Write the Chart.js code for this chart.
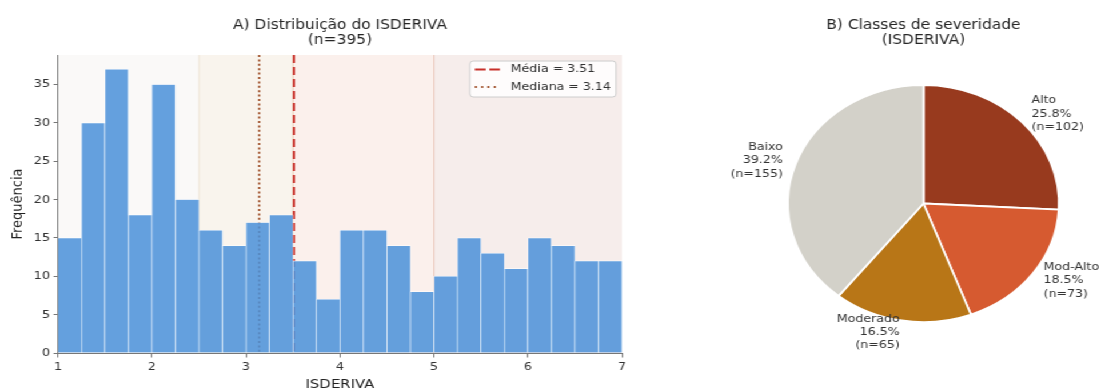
<!DOCTYPE html>
<html>
<head>
<meta charset="utf-8">
<script src="https://cdn.jsdelivr.net/npm/chart.js@4.4.1/dist/chart.umd.min.js"></script>
<style>
html,body{margin:0;padding:0;width:1101px;height:388px;overflow:hidden;background:#fff;}
#wrap{position:absolute;left:0;top:0;width:963px;height:400px;transform:scaleX(1.1433);transform-origin:0 0;}
#hist{position:absolute;left:0;top:0;}
#pie{position:absolute;left:612px;top:0;}
</style>
</head>
<body>
<div id="wrap">
<canvas id="hist" width="612" height="400"></canvas>
<canvas id="pie" width="351" height="388"></canvas>
</div>
<script>
// ---------- DATA ----------
const binEdges = [1.0,1.25,1.5,1.75,2.0,2.25,2.5,2.75,3.0,3.25,3.5,3.75,4.0,4.25,4.5,4.75,5.0,5.25,5.5,5.75,6.0,6.25,6.5,6.75,7.0];
const binCounts = [15,30,37,18,35,20,16,14,17,18,12,7,16,16,14,8,10,15,13,11,15,14,12,12];
const meanValue = 3.51;
const medianValue = 3.14;
const nTotal = 395;
const histTitle = ['A) Distribuição do ISDERIVA', '(n=' + nTotal + ')'];
const xAxisLabel = 'ISDERIVA';
const yAxisLabel = 'Frequência';
const xMin = 1, xMax = 7, xStep = 1;
const yMin = 0, yMax = 38.85, yStep = 5;

const classNames = ['Alto', 'Mod-Alto', 'Moderado', 'Baixo'];
const classCounts = [102, 73, 65, 155];
const classColors = ['#983a1e', '#d65a30', '#b87617', '#d3d1c9'];
const classFrom = [5.0, 3.5, 2.5, 1.0];
const classTo = [7.0, 5.0, 3.5, 2.5];
const bandAlpha = [0.09, 0.09, 0.08, 0.12];
const pieTitle = ['B) Classes de severidade', '(ISDERIVA)'];

// ---------- HELPERS ----------
Chart.defaults.font.family = "'DejaVu Sans', sans-serif";
Chart.defaults.color = '#333';
function hexA(hex, a){
  const n = parseInt(hex.slice(1),16);
  return 'rgba(' + ((n>>16)&255) + ',' + ((n>>8)&255) + ',' + (n&255) + ',' + a + ')';
}
function drawTitle(ctx, lines, cx){
  ctx.save();
  ctx.fillStyle = '#262626';
  ctx.font = "13.5px 'DejaVu Sans'";
  ctx.textAlign = 'center';
  ctx.textBaseline = 'middle';
  ctx.fillText(lines[0], cx, 25);
  ctx.fillText(lines[1], cx, 40.5);
  ctx.restore();
}

// ---------- HISTOGRAM ----------
const histPoints = binCounts.map((c, i) => ({x: (binEdges[i] + binEdges[i+1]) / 2, y: c}));
const refLines = [
  {label: 'Média = ' + meanValue.toFixed(2), value: meanValue, color: '#c8302a', dash: [8, 4], legendDash: [9.5, 3.2], width: 1.9},
  {label: 'Mediana = ' + medianValue.toFixed(2), value: medianValue, color: '#a0522d', dash: [2, 2.4], legendDash: [1.8, 3.7], width: 1.8}
];

const histDecor = {
  id: 'histDecor',
  beforeDatasetsDraw(chart){
    const {ctx, chartArea: a, scales: {x}} = chart;
    ctx.save();
    for (let i = 0; i < classNames.length; i++){
      const x0 = x.getPixelForValue(classFrom[i]);
      const x1 = x.getPixelForValue(classTo[i]);
      ctx.fillStyle = hexA(classColors[i], bandAlpha[i]);
      ctx.fillRect(x0, a.top, x1 - x0, a.bottom - a.top);
    }
    for (let i = 0; i < classNames.length; i++){
      [classFrom[i], classTo[i]].forEach(v => {
        if (v <= xMin || v >= xMax) return;
        const px = x.getPixelForValue(v);
        ctx.strokeStyle = hexA(classColors[i], 0.15);
        ctx.lineWidth = 0.9;
        ctx.beginPath(); ctx.moveTo(px, a.top); ctx.lineTo(px, a.bottom); ctx.stroke();
      });
    }
    refLines.forEach(r => {
      const px = x.getPixelForValue(r.value);
      ctx.strokeStyle = r.color;
      ctx.lineWidth = r.width;
      ctx.setLineDash(r.dash);
      ctx.beginPath(); ctx.moveTo(px, a.top); ctx.lineTo(px, a.bottom); ctx.stroke();
    });
    ctx.restore();
  },
  afterDraw(chart){
    const {ctx, chartArea: a} = chart;
    drawTitle(ctx, histTitle, (a.left + a.right) / 2);
    // legend
    ctx.save();
    ctx.font = "11px 'DejaVu Sans'";
    const tw = Math.max(...refLines.map(r => ctx.measureText(r.label).width));
    const w = 4.4 + 21.9 + 9.6 + tw + 4.5;
    const right = a.right - 5.2;
    const left = right - w;
    const top = a.top + 6, h = 36;
    ctx.fillStyle = 'rgba(255,255,255,0.85)';
    ctx.strokeStyle = '#cccccc';
    ctx.lineWidth = 1;
    ctx.beginPath();
    ctx.roundRect(left, top, w, h, 3);
    ctx.fill(); ctx.stroke();
    refLines.forEach((r, i) => {
      const cy = top + 8.5 + i * 17.5;
      ctx.strokeStyle = r.color;
      ctx.lineWidth = 2;
      ctx.setLineDash(r.legendDash);
      ctx.beginPath(); ctx.moveTo(left + 4.4, cy); ctx.lineTo(left + 4.4 + 21.9, cy); ctx.stroke();
      ctx.setLineDash([]);
      ctx.fillStyle = '#333';
      ctx.textAlign = 'left';
      ctx.textBaseline = 'middle';
      ctx.fillText(r.label, left + 4.4 + 21.9 + 9.6, cy);
    });
    ctx.restore();
  }
};

new Chart(document.getElementById('hist'), {
  type: 'bar',
  data: {
    datasets: [{
      label: yAxisLabel,
      data: histPoints,
      backgroundColor: 'rgba(74,144,217,0.85)',
      borderColor: 'rgba(255,255,255,0.95)',
      borderWidth: 0.6,
      borderSkipped: 'start',
      barPercentage: 1,
      categoryPercentage: 1
    }]
  },
  options: {
    responsive: false,
    animation: false,
    layout: {padding: {left: 0, top: 55, right: 68, bottom: 0}},
    plugins: {legend: {display: false}, tooltip: {enabled: false}},
    scales: {
      x: {
        type: 'linear', min: xMin, max: xMax, offset: false,
        ticks: {stepSize: xStep, includeBounds: false, maxRotation: 0, padding: 3, color: '#333', font: {size: 11.2}},
        grid: {display: true, drawOnChartArea: false, drawTicks: true, tickLength: 4.5, color: '#777', offset: false},
        border: {display: true, color: '#777', width: 1},
        title: {display: true, text: xAxisLabel, color: '#222', font: {size: 13}, padding: {top: 0, bottom: 8}},
        afterFit(s){ s.height = 47; }
      },
      y: {
        min: yMin, max: yMax,
        ticks: {stepSize: yStep, includeBounds: false, padding: 3, color: '#333', font: {size: 11.2}},
        grid: {display: true, drawOnChartArea: false, drawTicks: true, tickLength: 3.9, color: '#777'},
        border: {display: true, color: '#777', width: 1},
        title: {display: true, text: yAxisLabel, color: '#222', font: {size: 13}, padding: {top: 8, bottom: 0}},
        afterFit(s){ s.width = 50.7; }
      }
    }
  },
  plugins: [histDecor]
});

// ---------- PIE ----------
const pieDecor = {
  id: 'pieDecor',
  afterDraw(chart){
    const {ctx} = chart;
    const meta = chart.getDatasetMeta(0);
    const total = classCounts.reduce((s, v) => s + v, 0);
    ctx.save();
    ctx.font = "11px 'DejaVu Sans'";
    ctx.fillStyle = '#333';
    ctx.textBaseline = 'middle';
    meta.data.forEach((arc, i) => {
      const p = arc.getProps(['x','y','startAngle','endAngle','outerRadius'], true);
      const mid = (p.startAngle + p.endAngle) / 2;
      const lx = p.x + 1.1 * p.outerRadius * Math.cos(mid);
      const ly = p.y + 1.1 * p.outerRadius * Math.sin(mid);
      ctx.textAlign = Math.cos(mid) > 0 ? 'left' : 'right';
      const lines = [classNames[i], (100 * classCounts[i] / total).toFixed(1) + '%', '(n=' + classCounts[i] + ')'];
      const lh = 13.4;
      lines.forEach((t, k) => ctx.fillText(t, lx, ly + (k - 1) * lh));
    });
    ctx.restore();
    const c = meta.data[0];
    drawTitle(ctx, pieTitle, c.x);
  }
};

new Chart(document.getElementById('pie'), {
  type: 'pie',
  data: {
    labels: classNames,
    datasets: [{data: classCounts, backgroundColor: classColors, borderColor: '#ffffff', borderWidth: 1.8}]
  },
  options: {
    responsive: false,
    animation: false,
    radius: 118.5,
    layout: {padding: {left: 77.2, top: 85, right: 36.8, bottom: 66}},
    plugins: {legend: {display: false}, tooltip: {enabled: false}}
  },
  plugins: [pieDecor]
});
</script>
</body>
</html>
